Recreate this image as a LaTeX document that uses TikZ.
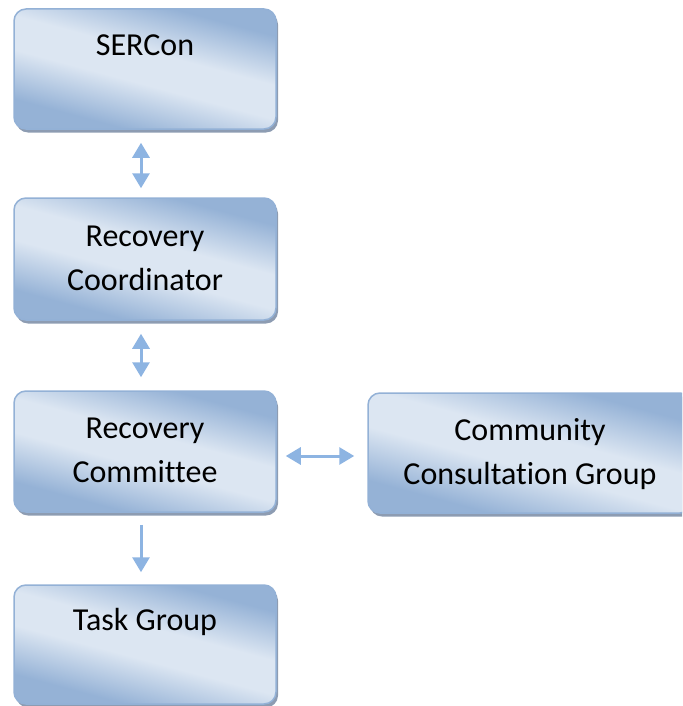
\documentclass[tikz,border=0pt]{standalone}
\usepackage{fontspec}
\setmainfont{Carlito}[Ligatures=NoCommon]
\usetikzlibrary{arrows.meta,shadows}
\definecolor{dk}{HTML}{95B2D6}
\definecolor{lt}{HTML}{DCE6F2}
\definecolor{bordc}{HTML}{93B1D6}
\definecolor{shadc}{HTML}{8D9CB2}
\definecolor{arrc}{HTML}{8DB4E2}
\pgfdeclarehorizontalshading{boxshade}{100bp}{color(0bp)=(dk); color(29bp)=(dk); color(45bp)=(lt); color(56bp)=(lt); color(72bp)=(dk); color(100bp)=(dk)}
\tikzset{
  box/.style={draw=bordc, line width=1.5pt, rounded corners=12pt, shading=boxshade, shading angle=75,
    drop shadow={shadow xshift=2pt, shadow yshift=-3.5pt, fill=shadc, opacity=1}},
  lbl/.style={font=\fontsize{32}{44}\selectfont, align=center, anchor=base, inner sep=0pt},
  conn/.style={draw=arrc, line width=3pt},
  tip/.style={-{Triangle[width=17pt,length=15pt]}},
  tips/.style={{Triangle[width=17pt,length=15pt]}-{Triangle[width=17pt,length=15pt]}},
}
\begin{document}
\begin{tikzpicture}[x=1pt,y=-1pt]
\useasboundingbox (0,0) rectangle (682,706);
\clip (0,0) rectangle (682,706);
\node[box, minimum width=262pt, minimum height=120pt] (sercon) at (145,69) {};
\node[box, minimum width=262pt, minimum height=122pt] (coord) at (145,259) {};
\node[box, minimum width=262pt, minimum height=121pt] (comm) at (145,451.5) {};
\node[box, minimum width=262pt, minimum height=119pt] (task) at (145,644.5) {};
\node[box, minimum width=324pt, minimum height=120pt] (ccg) at (530,453) {};

\node[lbl] (t1) at (145,56) {SERCon};
\node[lbl] (t2a) at (145,246) {Recovery};
\node[lbl] (t2b) at (145,290) {Coordinator};
\node[lbl] (t3a) at (145,438) {Recovery};
\node[lbl] (t3b) at (145,482) {Committee};
\node[lbl] (t4) at (145,630) {Task Group};
\node[lbl] (t5a) at (530,440) {Community};
\node[lbl] (t5b) at (530,484) {Consultation Group};

\draw[conn, tips, shorten <=13pt, shorten >=9pt] ([xshift=-4pt]sercon.south) -- ([xshift=-4pt]coord.north);
\draw[conn, tips, shorten <=13pt, shorten >=13pt] ([xshift=-4pt]coord.south) -- ([xshift=-4pt]comm.north);
\draw[conn, tip, shorten <=12pt, shorten >=12pt] ([xshift=-4pt]comm.south) -- ([xshift=-4pt]task.north);
\draw[conn, tips, shorten <=9pt, shorten >=13pt] (comm.east |- 0,456) -- (ccg.west |- 0,456);
\end{tikzpicture}
\end{document}
